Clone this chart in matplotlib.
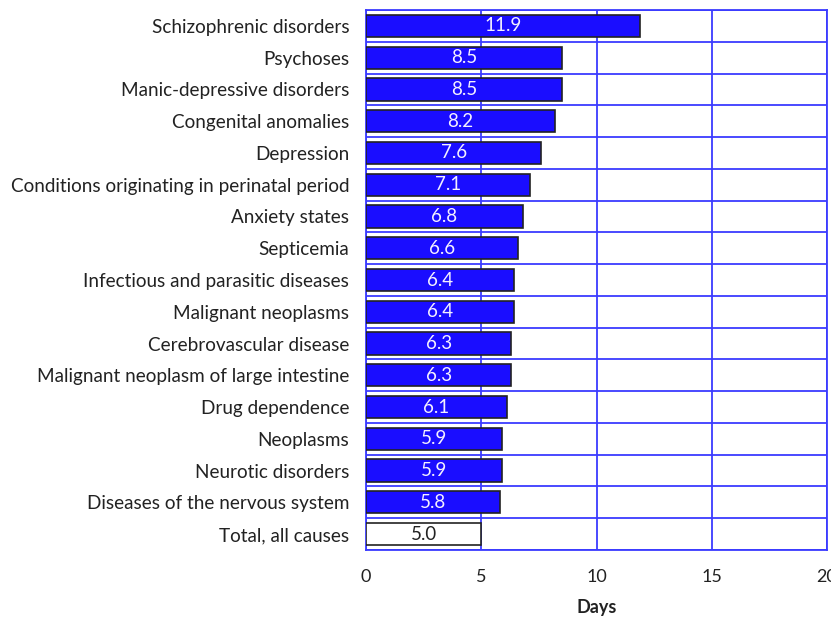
import numpy as np
import matplotlib.pyplot as plt

categories = ["Schizophrenic disorders", "Psychoses", "Manic-depressive disorders",
              "Congenital anomalies", "Depression", "Conditions originating in perinatal period",
              "Anxiety states", "Septicemia", "Infectious and parasitic diseases",
              "Malignant neoplasms", "Cerebrovascular disease",
              "Malignant neoplasm of large intestine", "Drug dependence", "Neoplasms",
              "Neurotic disorders", "Diseases of the nervous system", "Total, all causes"]
days = [11.9, 8.5, 8.5, 8.2, 7.6, 7.1, 6.8, 6.6, 6.4, 6.4, 6.3, 6.3, 6.1, 5.9, 5.9, 5.8, 5.0]
x_ticks = [0, 5, 10, 15, 20]

plt.rcParams['font.family'] = ['Lato', 'DejaVu Sans']

fig = plt.figure(figsize=(8.31, 6.2), dpi=100)
ax = fig.add_axes([366/831, 1-550/620, (827-366)/831, 540/620])

n = len(categories)
y = np.arange(n)
colors = ["#1a0dff"] * (n-1) + ["white"]
ax.barh(y, days, height=0.7, color=colors, edgecolor="#222222", linewidth=1.2, zorder=3)

for yi, v, c in zip(y, days, colors):
    tc = "#f4f0ff" if c != "white" else "#222222"
    ax.text(v/2, yi, f"{v:.1f}", ha="center", va="center", color=tc, fontsize=13.5, zorder=4)

ax.set_xlim(0, 20)
ax.set_ylim(n-0.5, -0.5)
ax.set_yticks(y)
ax.set_yticklabels(categories, fontsize=13.6, color="#222222")
ax.set_xticks(x_ticks)
ax.set_xticklabels([str(t) for t in x_ticks], fontsize=13, color="#222222")
ax.tick_params(length=0)
ax.tick_params(axis="y", pad=12)
ax.tick_params(axis="x", pad=14)

grid_c = "#3b3bff"
for t in x_ticks:
    ax.axvline(t, color=grid_c, linewidth=1.3, zorder=1)
for b in np.arange(-0.5, n, 1.0):
    ax.axhline(b, color=grid_c, linewidth=1.3, zorder=1)
for s in ax.spines.values():
    s.set_color(grid_c)
    s.set_linewidth(1.3)

ax.set_xlabel("Days", fontsize=13, fontweight="bold", color="#222222", labelpad=10)

fig.savefig("out.png", dpi=100)
